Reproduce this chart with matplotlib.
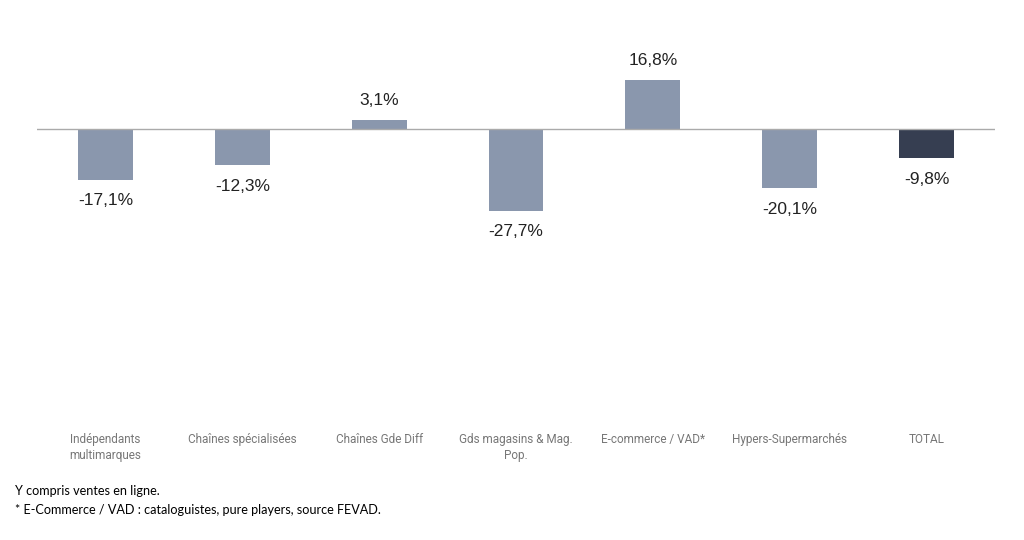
import matplotlib.pyplot as plt

categories = ['Indépendants\nmultimarques', 'Chaînes spécialisées', 'Chaînes Gde Diff',
              'Gds magasins & Mag.\nPop.', 'E-commerce / VAD*', 'Hypers-Supermarchés', 'TOTAL']
values = [-17.1, -12.3, 3.1, -27.7, 16.8, -20.1, -9.8]
labels = ['-17,1%', '-12,3%', '3,1%', '-27,7%', '16,8%', '-20,1%', '-9,8%']
colors = ['#8A97AD'] * 6 + ['#363E51']

fig = plt.figure(figsize=(10.24, 5.4), dpi=100)
ax = fig.add_axes([37/1024, 115/540, 958/1024, 395/540])

x = range(len(values))
bars = ax.bar(x, values, width=0.4, color=colors, zorder=2)
ax.axhline(0, color='#AAAAAA', lw=1, zorder=3)

for b, v, t in zip(bars, values, labels):
    off = 9 if v > 0 else -10
    ax.annotate(t, (b.get_x() + b.get_width() / 2, v), xytext=(0, off),
                textcoords='offset points', ha='center',
                va='bottom' if v > 0 else 'top',
                fontsize=12.5, family='Liberation Sans', color='#222222')

ax.set_xlim(-0.5, 6.5)
ax.set_ylim(-101, 34)
ax.set_xticks(list(x))
ax.set_xticklabels(categories, fontsize=8.5, family='Roboto', color='#777777',
                   linespacing=1.3, va='top')
ax.tick_params(axis='x', length=0, pad=5.5)
ax.set_yticks([])
for s in ax.spines.values():
    s.set_visible(False)

fig.text(15/1024, 1 - 491/540, 'Y compris ventes en ligne.', fontsize=9.1,
         family='Lato', va='center')
fig.text(15/1024, 1 - 510/540, '* E-Commerce / VAD : cataloguistes, pure players, source FEVAD.',
         fontsize=9.1, family='Lato', va='center')

fig.savefig('out.png', dpi=100)
